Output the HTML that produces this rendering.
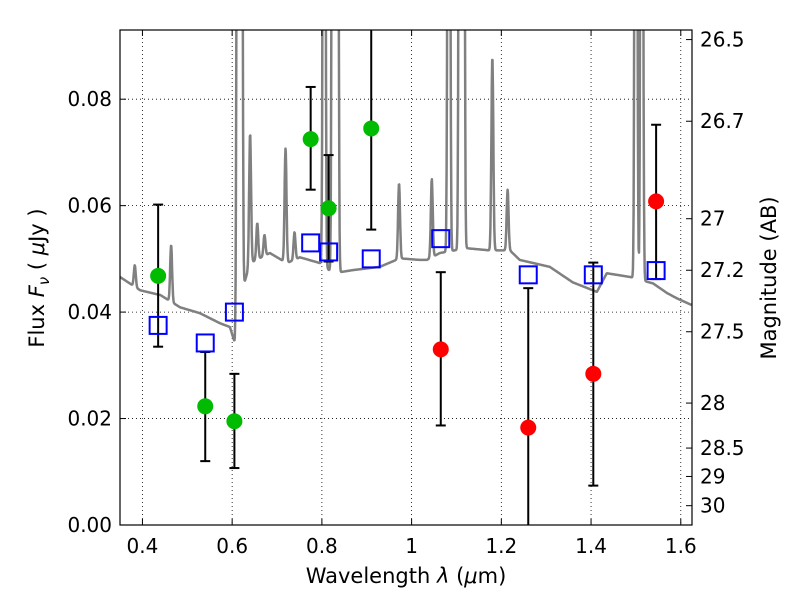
<!DOCTYPE html>
<html><head><meta charset="utf-8"><style>
body{margin:0;background:#fff}
svg text{font-family:"DejaVu Sans","Liberation Sans",sans-serif;fill:#000}
</style></head><body>
<svg id="chart" width="800" height="600" xmlns="http://www.w3.org/2000/svg">
<defs><clipPath id="clip"><rect x="120" y="30" width="572" height="495"/></clipPath></defs>
<g id="grid"></g>
<g id="spec" clip-path="url(#clip)"></g>
<g id="marks" clip-path="url(#clip)"></g>
<rect x="120" y="30" width="572" height="495" fill="none" stroke="#000" stroke-width="1.2"/>
<g id="axes"></g>
<text x="406" y="583" font-size="21" text-anchor="middle">Wavelength  <tspan font-style="italic">λ</tspan> (<tspan font-style="italic">μ</tspan>m)</text>
<text transform="translate(44,278) rotate(-90)" font-size="21" text-anchor="middle">Flux  <tspan font-style="italic">F</tspan><tspan font-style="italic" font-size="15" dy="5">ν</tspan><tspan dy="-5">  ( </tspan><tspan font-style="italic">μ</tspan>Jy )</text>
<text transform="translate(776,278) rotate(-90)" font-size="21" text-anchor="middle">Magnitude (AB)</text>
</svg>
<script>
const contLam=[0.35,0.395,0.44,0.484,0.528,0.573,0.595,0.606,0.618,0.640,0.684,0.722,0.751,0.796,0.825,0.870,0.929,0.974,1.018,1.034,1.063,1.123,1.174,1.219,1.241,1.308,1.359,1.413,1.435,1.487,1.538,1.569,1.591,1.625];
const contFlux=[0.0466,0.0441,0.0432,0.0409,0.0398,0.0379,0.0372,0.0342,0.0428,0.0492,0.0511,0.0492,0.0503,0.0492,0.0473,0.0479,0.0485,0.0501,0.0498,0.0498,0.0511,0.052,0.0516,0.0516,0.0498,0.0485,0.0456,0.0438,0.0473,0.0466,0.0454,0.0436,0.0426,0.0413];
const lineLam=[0.383,0.464,0.613,0.62,0.640,0.656,0.672,0.719,0.739,0.805,0.825,0.834,0.972,1.045,1.083,1.108,1.115,1.18,1.214,1.50,1.513];
const linePeak=[0.0488,0.0526,0.3,0.3,0.0736,0.0567,0.0545,0.0708,0.055,0.3,0.3,0.3,0.0642,0.065,0.3,0.3,0.3,0.088,0.063,0.3,0.3];
const greenLam=[0.435,0.54,0.605,0.775,0.815,0.91];
const greenFlux=[0.0468,0.0223,0.0195,0.0725,0.0595,0.0745];
const greenLo=[0.0335,0.012,0.0107,0.063,0.0495,0.0555];
const greenHi=[0.0602,0.0325,0.0284,0.0823,0.0695,0.095];
const redLam=[1.065,1.26,1.405,1.545];
const redFlux=[0.033,0.0183,0.0284,0.0608];
const redLo=[0.0187,-0.001,0.0074,0.0462];
const redHi=[0.0475,0.0445,0.0493,0.0752];
const modelLam=[0.435,0.54,0.605,0.775,0.815,0.91,1.065,1.26,1.405,1.545];
const modelFlux=[0.0375,0.0342,0.040,0.053,0.0513,0.050,0.0538,0.047,0.047,0.0478];
const xTicks=[0.4,0.6,0.8,1.0,1.2,1.4,1.6];
const xTickLabels=["0.4","0.6","0.8","1","1.2","1.4","1.6"];
const yTicks=[0,0.02,0.04,0.06,0.08];
const yTickLabels=["0.00","0.02","0.04","0.06","0.08"];
const magTicks=[26.5,26.7,27,27.2,27.5,28,28.5,29,30];
const magLabels=["26.5","26.7","27","27.2","27.5","28","28.5","29","30"];

const X0=120,X1=692,Y0=525,Y1=30,XMIN=0.35,XMAX=1.625,YMIN=0,YMAX=0.093;
const xs=v=>X0+(v-XMIN)/(XMAX-XMIN)*(X1-X0);
const ys=v=>Y0-(v-YMIN)/(YMAX-YMIN)*(Y0-Y1);
const NS="http://www.w3.org/2000/svg";
function mk(t,a,p){const e=document.createElementNS(NS,t);for(const k in a)e.setAttribute(k,a[k]);p.appendChild(e);return e;}
const grid=document.getElementById('grid'),axes=document.getElementById('axes');
xTicks.forEach((t,i)=>{const x=xs(t);
 const g=mk('line',{x1:x,x2:x,y1:Y1,y2:Y0,stroke:'#000','stroke-width':0.8,'stroke-dasharray':'1,3'},grid);
 
 mk('line',{x1:x,x2:x,y1:Y0,y2:Y0-6,stroke:'#000'},axes);mk('line',{x1:x,x2:x,y1:Y1,y2:Y1+6,stroke:'#000'},axes);
 const tx=mk('text',{x:x,y:553,'font-size':20,'text-anchor':'middle'},axes);tx.textContent=xTickLabels[i];
 });
yTicks.forEach((t,i)=>{const y=ys(t);
 const g=mk('line',{x1:X0,x2:X1,y1:y,y2:y,stroke:'#000','stroke-width':0.8,'stroke-dasharray':'1,3'},grid);
 
 mk('line',{x1:X0,x2:X0+6,y1:y,y2:y,stroke:'#000'},axes);
 const tx=mk('text',{x:112,y:y+7,'font-size':20,'text-anchor':'end'},axes);tx.textContent=yTickLabels[i];
 });
magTicks.forEach((m,i)=>{const f=Math.pow(10,(23.9-m)/2.5);const y=ys(f);
 mk('line',{x1:X1,x2:X1-6,y1:y,y2:y,stroke:'#000'},axes);
 const tx=mk('text',{x:700,y:y+7,'font-size':20},axes);tx.textContent=magLabels[i];
 });
function cont(l){for(let i=0;i<contLam.length-1;i++){if(l<=contLam[i+1]){const t=(l-contLam[i])/(contLam[i+1]-contLam[i]);return contFlux[i]+t*(contFlux[i+1]-contFlux[i]);}}return contFlux[contFlux.length-1];}
let pts=[];
for(let l=XMIN;l<=XMAX+1e-9;l+=0.0008){let f=cont(l);lineLam.forEach((c,i)=>{const amp=linePeak[i]-cont(c);f+=amp*Math.exp(-Math.pow((l-c)/0.003,2));});pts.push(xs(l).toFixed(1)+','+ys(f).toFixed(1));}
const sp=mk('polyline',{points:pts.join(' '),fill:'none',stroke:'#808080','stroke-width':2.5,'stroke-linejoin':'round'},document.getElementById('spec'));

const marks=document.getElementById('marks');
function errbar(l,lo,hi){const x=xs(l);const g=mk('g',{},marks);
 
 mk('line',{x1:x,x2:x,y1:ys(lo),y2:ys(hi),stroke:'#000','stroke-width':2},g);
 mk('line',{x1:x-5,x2:x+5,y1:ys(lo),y2:ys(lo),stroke:'#000','stroke-width':2},g);
 mk('line',{x1:x-5,x2:x+5,y1:ys(hi),y2:ys(hi),stroke:'#000','stroke-width':2},g);}
greenLam.forEach((l,i)=>errbar(l,greenLo[i],greenHi[i]));
redLam.forEach((l,i)=>errbar(l,redLo[i],redHi[i]));
modelLam.forEach((l,i)=>{const r=mk('rect',{x:xs(l)-8.5,y:ys(modelFlux[i])-8.5,width:17,height:17,fill:'none',stroke:'#0000ff','stroke-width':2},marks);
 });
greenLam.forEach((l,i)=>{const c=mk('circle',{cx:xs(l),cy:ys(greenFlux[i]),r:8,fill:'#00bb00'},marks);
 });
redLam.forEach((l,i)=>{const c=mk('circle',{cx:xs(l),cy:ys(redFlux[i]),r:8,fill:'#ff0000'},marks);
 });
</script>
</body></html>
